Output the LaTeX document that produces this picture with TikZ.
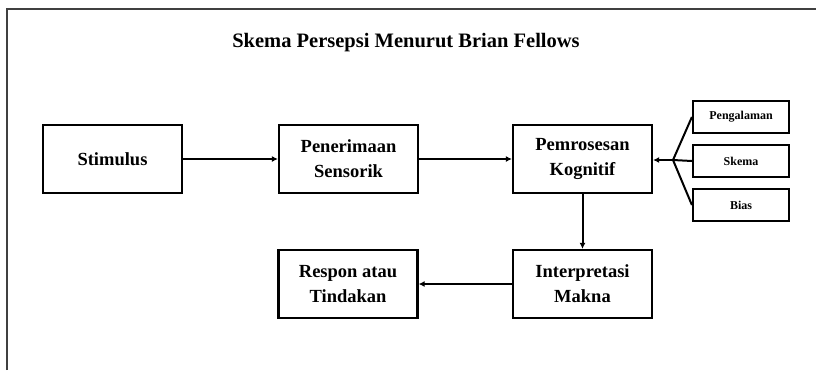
\documentclass[tikz,border=0pt]{standalone}
\usepackage{fontspec}
\setmainfont{Liberation Serif}
\usetikzlibrary{arrows.meta}
\tikzset{
  kotak/.style={draw,line width=2.2pt,minimum width=139pt,minimum height=68pt,
    align=center,font=\bfseries\fontsize{18.5}{25}\selectfont,inner sep=0pt},
  kecil/.style={draw,line width=2.2pt,minimum width=96pt,minimum height=32pt,
    align=center,font=\bfseries\fontsize{12}{14}\selectfont,inner sep=0pt},
  panah/.style={line width=2pt,-{Latex[length=6pt,width=6pt]}}
}
\begin{document}
\begin{tikzpicture}[x=1pt,y=-1pt]
  \useasboundingbox (0,0) rectangle (816,370);
  % bingkai
  \draw[line width=2pt,black!75] (7,370) -- (7,9) -- (816,9);
  \node[font=\bfseries\fontsize{20.5}{24}\selectfont] (judul) at (406,43)
    {Skema Persepsi Menurut Brian Fellows};
  \node[kotak] (stimulus) at (112.5,159) {Stimulus};
  \node[kotak] (penerimaan) at (348.5,159) {Penerimaan\\Sensorik};
  \node[kotak] (pemrosesan) at (582.5,159) {Pemrosesan\\Kognitif};
  \node[kotak] (interpretasi) at (582.5,284) {Interpretasi\\Makna};
  \node[kotak] (respon) at (348,284) {Respon atau\\Tindakan};
  \node[kecil] (pengalaman) at (741,117) {Pengalaman};
  \node[kecil] (skema) at (741,161) {Skema};
  \node[kecil] (bias) at (741,205) {Bias};
  \coordinate (cabang) at (673,160);
  \draw[panah] (stimulus) -- (penerimaan);
  \draw[panah] (penerimaan) -- (pemrosesan);
  \draw[panah] (pemrosesan.south) -- (interpretasi.north);
  \draw[panah] (interpretasi) -- (respon);
  % faktor
  \draw[line width=2pt] (pengalaman.west) -- (cabang) -- (bias.west);
  \draw[line width=2pt] (skema.west) -- (cabang);
  \draw[panah] (cabang) -- (pemrosesan.east |- cabang);
\end{tikzpicture}
\end{document}
